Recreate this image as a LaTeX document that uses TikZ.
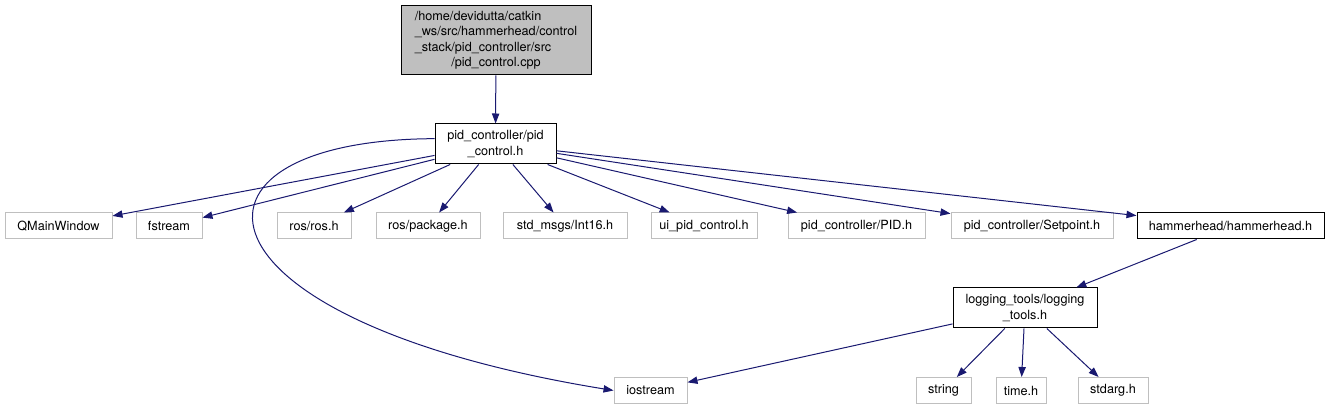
\documentclass[tikz,border=0pt]{standalone}
\usepackage{fontspec}
\setmainfont{TeX Gyre Heros}
\usetikzlibrary{arrows.meta}
\definecolor{dxedge}{RGB}{25,25,112}
\definecolor{dxgray}{RGB}{191,191,191}

\begin{document}
\begin{tikzpicture}[x=0.75pt, y=-0.75pt,
  font=\fontsize{9.5}{11.5}\selectfont,
  f/.style={draw, line width=0.75pt, inner sep=0pt, anchor=center,
            align=center, minimum height=19.5pt, fill=white},
  wd/.style={minimum width=#1*0.75pt},
  ext/.style={f, draw=dxgray},
  inc/.style={f, draw=black},
  hdr/.style={inc, minimum height=30pt},
  src/.style={f, draw=black, fill=dxgray, minimum height=51.75pt},
  dep/.style={-{Triangle[length=7.5pt,width=5.5pt]}, dxedge, line width=0.75pt}]
\useasboundingbox (0,0) rectangle (1329,409);
\node[src, wd=190] (cpp) at (496,40.5)
  {\begin{tabular}{@{}l@{}}/home/devidutta/catkin\\\_ws/src/hammerhead/control\\
   \_stack/pid\_controller/src\\\multicolumn{1}{@{}c@{}}{/pid\_control.cpp}\end{tabular}};
\node[hdr, wd=121] (pch) at (495.5,144) {pid\_controller/pid\\\_control.h};
\node[ext, wd=107] (qmw) at (58.5,226)   {QMainWindow};
\node[ext, wd=66]  (fst) at (169,226)    {fstream};
\node[ext, wd=74]  (ros) at (314,226)    {ros/ros.h};
\node[ext, wd=104] (pkg) at (428,226)    {ros/package.h};
\node[ext, wd=124] (i16) at (565,226)    {std\_msgs/Int16.h};
\node[ext, wd=106] (ui)  at (704,226)    {ui\_pid\_control.h};
\node[ext, wd=137] (pid) at (856.5,226)  {pid\_controller/PID.h};
\node[ext, wd=162] (spt) at (1032,226)   {pid\_controller/Setpoint.h};
\node[inc, wd=187] (ham) at (1230.5,226) {hammerhead/hammerhead.h};
\node[hdr, wd=144] (log) at (1025,308)   {logging\_tools/logging\\\_tools.h};
\node[ext, wd=73]  (ios) at (650.5,390.5) {iostream};
\node[ext, wd=55]  (str) at (943.5,390.5) {string};
\node[ext, wd=50]  (tim) at (1021,390.5)  {time.h};
\node[ext, wd=70]  (stg) at (1113,390.5)  {stdarg.h};
% includes
\draw[dep] (cpp) -- (pch);
\foreach \t in {qmw,fst,ros,pkg,i16,ui,pid,spt,ham}
  \draw[dep] (pch) -- (\t);
\draw[dep] (pch.175) .. controls (160,140) and (180,320) .. (ios.west);
\draw[dep] (ham) -- (log);
\foreach \t in {ios,str,tim,stg}
  \draw[dep] (log) -- (\t);
\end{tikzpicture}
\end{document}
